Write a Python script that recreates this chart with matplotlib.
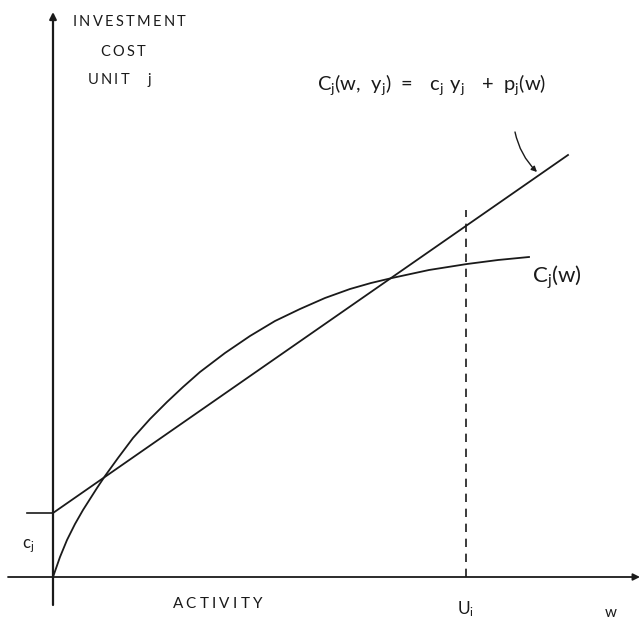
import matplotlib.pyplot as plt

plt.rcParams['font.family'] = ['Lato', 'DejaVu Sans']
plt.rcParams['mathtext.default'] = 'regular'

# activity w and investment cost C_j(w)
w_curve = [0, 7, 14, 22, 30, 44, 52, 65, 80, 97, 114, 130, 147, 172, 197, 222, 247, 272,
           297, 318, 339, 376, 414, 445, 476]
c_curve = [0, 20, 37, 53, 67, 89, 101, 119, 139, 158, 175, 190, 205, 224, 241, 256, 268, 279,
           288, 294, 299, 307, 313, 317, 320]

# linear approximation c_j*y_j + p_j(w)
line_w = [0, 515]
line_c = [64, 422]

c_j = 64        # fixed charge
u_i = 413       # capacity
x_max, y_max = 587, 565

fig = plt.figure(figsize=(6.44, 6.23), dpi=100)
ax = fig.add_axes([0, 0, 1, 1])
ax.set_xlim(-53, 591)
ax.set_ylim(-46, 577)
ax.axis('off')

ink = '#1a1a1a'

# axes with arrows
ax.annotate('', xy=(0, y_max), xytext=(0, -28),
            arrowprops=dict(arrowstyle='-|>', color=ink, lw=1.6, mutation_scale=10, shrinkA=0, shrinkB=0))
ax.annotate('', xy=(x_max, 0), xytext=(-45, 0),
            arrowprops=dict(arrowstyle='-|>', color=ink, lw=1.3, mutation_scale=10, shrinkA=0, shrinkB=0))

# curves
ax.plot(w_curve, c_curve, color=ink, lw=1.3)
ax.plot(line_w, line_c, color=ink, lw=1.3)

# fixed charge tick and capacity line
ax.plot([-26, 0], [c_j, c_j], color=ink, lw=1.2)
ax.plot([u_i, u_i], [0, 367], color=ink, lw=1.2, ls=(0, (5, 4)))

# pointer to the linear function
ax.annotate('', xy=(484, 405), xytext=(462, 445),
            arrowprops=dict(arrowstyle='-|>', color=ink, lw=1.0, mutation_scale=8,
                            connectionstyle='arc3,rad=0.15', shrinkA=0, shrinkB=0))

# labels (hand lettering is spaced out, hence the thin spaces)
ax.text(19, 555, r'$I\,N\,V\,E\,S\,T\,M\,E\,N\,T$', fontsize=10.5, color=ink, va='center', ha='left')
ax.text(47, 525, r'$C\,O\,S\,T$', fontsize=10.5, color=ink, va='center', ha='left')
ax.text(34, 497, r'$U\,N\,I\,T\ \ \ \ j$', fontsize=10.5, color=ink, va='center', ha='left')
ax.text(264, 487, r'$C_j(w,\ y_j)\ =\ \ c_j\ y_j\ \ +\ p_j(w)$', fontsize=14.5, color=ink,
        va='baseline', ha='left')
ax.text(479, 294, '$C_j(w)$', fontsize=16, color=ink, va='baseline', ha='left')
ax.text(-31, 29, '$c_j$', fontsize=12, color=ink, va='baseline', ha='left')
ax.text(165, -31, r'$A\:C\:T\:I\:V\:I\:T\:Y$', fontsize=11, color=ink, va='baseline', ha='center')
ax.text(404, -37, '$U_i$', fontsize=12.5, color=ink, va='baseline', ha='left')
ax.text(552, -40, 'w', fontsize=11, color=ink, va='baseline', ha='left')

fig.savefig('out.png', dpi=100)
